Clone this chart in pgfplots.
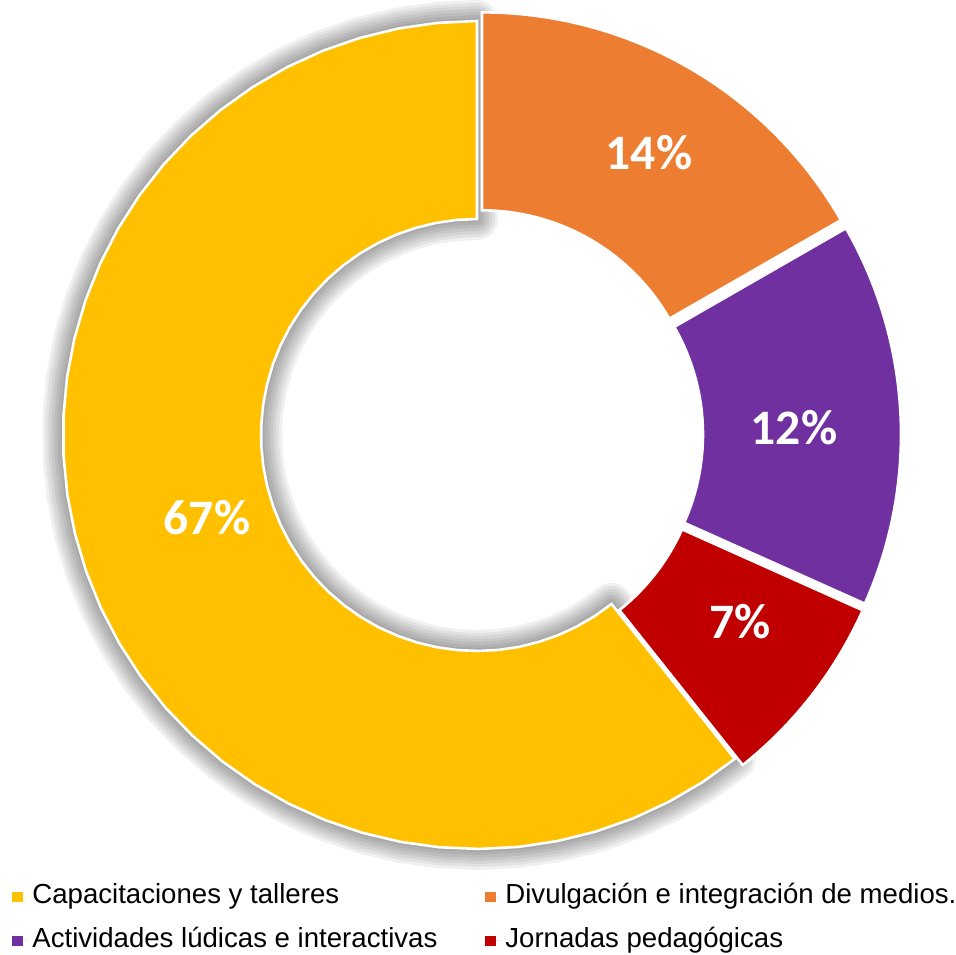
\documentclass[border=0pt]{standalone}
\usepackage{fontspec}
\setmainfont{Liberation Sans}
\newfontfamily\carlito{Carlito}
\usepackage{pgfplots}
\pgfplotsset{compat=1.18}

\definecolor{cYellow}{HTML}{FFC000}
\definecolor{cOrange}{HTML}{ED7D31}
\definecolor{cPurple}{HTML}{7030A0}
\definecolor{cRed}{HTML}{C00000}

% one ring segment: style, cumulative share before it (%), share (%), explode (px)
% 1 axis unit = 1 px of the reference; centre of the ring at (477,520), radii 414 / 216
\newcommand{\donutslice}[4]{%
  \pgfmathsetmacro\aS{90-3.6*#2}%
  \pgfmathsetmacro\aE{90-3.6*(#2+#3)}%
  \pgfmathsetmacro\aM{90-3.6*(#2+#3/2)}%
  \pgfmathsetmacro\cx{477+#4*cos(\aM)}%
  \pgfmathsetmacro\cy{520+#4*sin(\aM)}%
  \addplot[#1, forget plot, variable=\t, samples at={0,1,...,81}]
    ({\cx+ifthenelse(\t<41,414,216)*cos(ifthenelse(\t<41,\aS+(\aE-\aS)*\t/40,\aE-(\aE-\aS)*(\t-41)/40))},
     {\cy+ifthenelse(\t<41,414,216)*sin(ifthenelse(\t<41,\aS+(\aE-\aS)*\t/40,\aE-(\aE-\aS)*(\t-41)/40))}) -- cycle;
}

\pgfplotsset{
  slice/.style={fill=#1, draw=white, line width=1.3pt},
  glow/.style={draw=black, opacity=0.06, line width=#1, fill=none, line join=round},
  sq/.style={fill=#1, draw=none, legend image code/.code={%
      \path[##1] (0pt,-2.6pt) rectangle (5.2pt,2.6pt);
      \path (0pt,0pt) -- (8pt,0pt);}},
}

\begin{document}
\begin{tikzpicture}
\begin{axis}[
    width=478pt, height=476pt, scale only axis,
    xmin=0, xmax=956, ymin=0, ymax=952,
    hide axis, clip=false,
    legend columns=2,
    legend style={
        at={(axis cs:6,79)}, anchor=north west,
        draw=none, fill=none, overlay,
        font=\fontsize{13.8}{15}\selectfont,
        nodes={text height=9.8pt, text depth=3pt, inner sep=2pt},
        row sep=5pt,
        /tikz/every even column/.append style={column sep=22pt},
    },
    legend cell align=left,
]
\path (axis cs:0,0) rectangle (axis cs:956,952);

% soft shadow round the big segment
\pgfplotsinvokeforeach{3,6,9,12,15,18,21}{
  \donutslice{glow=#1pt}{39.3}{60.7}{0}
}

% shares as drawn (clockwise from the top)
\donutslice{slice=cOrange}{0}{16.7}{10}
\donutslice{slice=cPurple}{16.7}{15.0}{10}
\donutslice{slice=cRed}{31.7}{7.6}{10}
\donutslice{slice=cYellow}{39.3}{60.7}{0}

% data labels as printed
\begin{scope}[every node/.style={text=white, font=\carlito\bfseries\fontsize{24.8}{25}\selectfont}]
\node at (axis cs:649,802) {14\%};
\node at (axis cs:794,527) {12\%};
\node at (axis cs:740,333) {7\%};
\node at (axis cs:207,437) {67\%};
\end{scope}

\addlegendimage{sq=cYellow}
\addlegendentry{Capacitaciones y talleres}
\addlegendimage{sq=cOrange}
\addlegendentry{Divulgación e integración de medios.}
\addlegendimage{sq=cPurple}
\addlegendentry{Actividades lúdicas e interactivas}
\addlegendimage{sq=cRed}
\addlegendentry{Jornadas pedagógicas}
\end{axis}
\end{tikzpicture}
\end{document}
